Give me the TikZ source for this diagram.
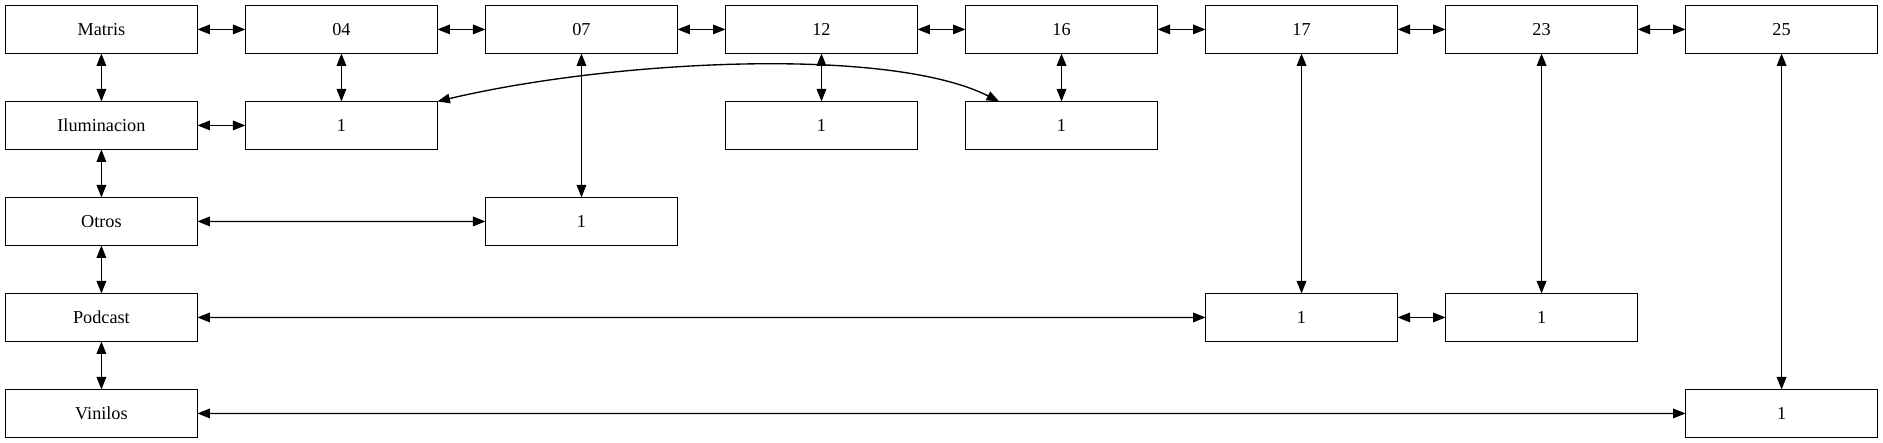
\documentclass[tikz,border=0pt]{standalone}
\usepackage{fontspec}
\setmainfont{Liberation Serif}
\usetikzlibrary{positioning,arrows.meta}

\begin{document}
\begin{tikzpicture}[thick,
    every node/.style={draw,rectangle,outer sep=0pt,minimum width=4cm,minimum height=1cm,font=\fontsize{10.8}{13}\selectfont},
    >={Triangle[length=2.6mm,width=2mm]},
    node distance=1cm
    ]
    \useasboundingbox (-2.1125,0.6125) rectangle (37.1125,-8.6125);

    \node (m) {Matris};
    \node (d04) [right=of m] {04};
    \node (d07) [right=of d04] {07};
    \node (d12) [right=of d07] {12};
    \node (d16) [right=of d12] {16};
    \node (d17) [right=of d16] {17};
    \node (d23) [right=of d17] {23};
    \node (d25) [right=of d23] {25};
    \node (il) [below=of m] {Iluminacion};
    \node (i04) [below=of d04] {1};
    \node (i12) [below=of d12] {1};
    \node (i16) [below=of d16] {1};
    \node (ot) [below=of il] {Otros};
    \node (o07) [below=3cm of d07] {1};
    \node (pc) [below=of ot] {Podcast};
    \node (p17) [below=5cm of d17] {1};
    \node (p23) [below=5cm of d23] {1};
    \node (vi) [below=of pc] {Vinilos};
    \node (v25) [below=7cm of d25] {1};

    % the edges
    \draw[<->] (m) -- (d04);
    \draw[<->] (d04) -- (d07);
    \draw[<->] (d07) -- (d12);
    \draw[<->] (d12) -- (d16);
    \draw[<->] (d16) -- (d17);
    \draw[<->] (d17) -- (d23);
    \draw[<->] (d23) -- (d25);
    \draw[<->] (m) -- (il);
    \draw[<->] (il) -- (ot);
    \draw[<->] (ot) -- (pc);
    \draw[<->] (pc) -- (vi);
    \draw[<->] (il) -- (i04);
    \draw[<->] (d04) -- (i04);
    \draw[<->] (d12) -- (i12);
    \draw[<->] (d16) -- (i16);
    \draw[<->] (i04.north east) .. controls (10.64,-0.64) and (16.39,-0.34) .. ([xshift=0.7cm]i16.north west);
    \draw[<->] (d07) -- (o07);
    \draw[<->] (ot) -- (o07);
    \draw[<->] (d17) -- (p17);
    \draw[<->] (pc) -- (p17);
    \draw[<->] (p17) -- (p23);
    \draw[<->] (d23) -- (p23);
    \draw[<->] (d25) -- (v25);
    \draw[<->] (vi) -- (v25);
\end{tikzpicture}
\end{document}
